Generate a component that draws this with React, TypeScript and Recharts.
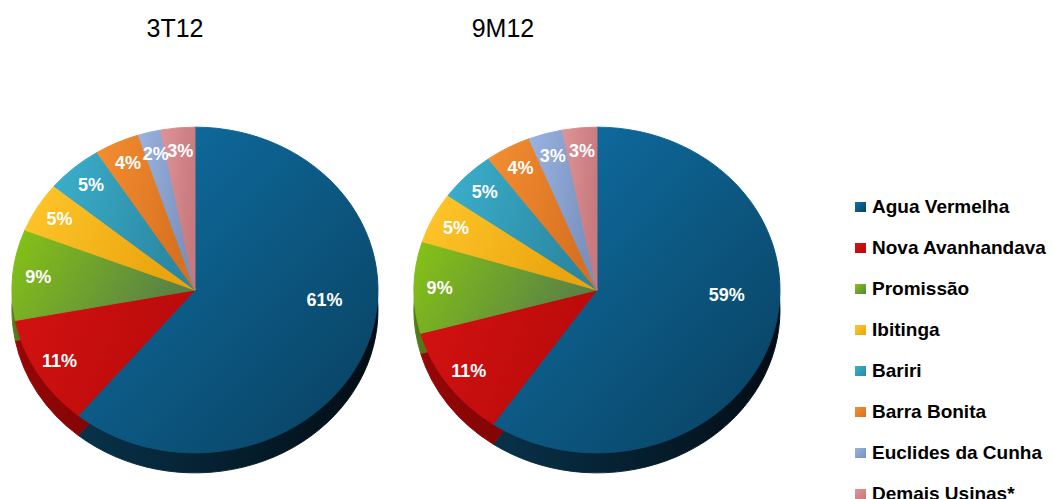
import { Cell, Legend, Pie, PieChart } from "recharts";

const plants = [
  "Agua Vermelha",
  "Nova Avanhandava",
  "Promissão",
  "Ibitinga",
  "Bariri",
  "Barra Bonita",
  "Euclides da Cunha",
  "Demais Usinas*",
];
const periods = ["3T12", "9M12"];
const share3T12 = [61, 11, 9, 5, 5, 4, 2, 3];
const share9M12 = [59, 11, 9, 5, 5, 4, 3, 3];

const faceLight = ["#0f72a8", "#d41212", "#86c414", "#ffc72c", "#3cb0cc", "#f48e32", "#9ab3e0", "#de9497"];
const faceDark = ["#093f5e", "#b90a0a", "#5a8246", "#eaa40e", "#2a88a2", "#d8711f", "#7a91be", "#c87a7e"];
const sideLight = ["#08324a", "#960606", "#557a18", "#b88008", "#1f6a80", "#a85818", "#5c7098", "#985a5d"];
const sideDark = ["#020c14", "#6c0404", "#3a5522", "#8a6006", "#154c5c", "#7a4010", "#44526e", "#704244"];

const FONT = '"Liberation Sans", Arial, sans-serif';
const TILT = 0.89; // vertical squash of the pie disc
const RADIUS = 183;
const DEPTH = 20;
const FACE_Y = 290;
const RAD = Math.PI / 180;

const seriesList = [share3T12, share9M12];
const pieX = [195, 597];
const titleX = [175, 503];

function renderLabel(props: any) {
  const { cx, cy, midAngle, outerRadius, percent, value } = props;
  const big = percent > 0.5;
  const a = (big ? midAngle + 15 : midAngle) * RAD;
  const r = outerRadius * (big ? 0.71 : 0.86);
  const x = cx + r * Math.cos(a);
  const y = cy - r * Math.sin(a);
  return (
    <text
      transform={`translate(${x},${y}) scale(1,${1 / TILT})`}
      textAnchor="middle"
      dominantBaseline="central"
      fill="#fff"
      fontSize={18}
      fontWeight="bold"
      fontFamily={FONT}
    >
      {value}%
    </text>
  );
}

const renderLegend = () => (
  <div style={{ fontFamily: FONT }}>
    {plants.map((name, i) => (
      <div key={name} style={{ display: "flex", alignItems: "center", height: 41 }}>
        <span
          style={{
            display: "inline-block",
            width: 11,
            height: 10,
            marginRight: 6,
            background: `linear-gradient(135deg, ${faceLight[i]}, ${faceDark[i]})`,
          }}
        />
        <span style={{ fontSize: 19, fontWeight: 700, color: "#000", whiteSpace: "nowrap" }}>{name}</span>
      </div>
    ))}
  </div>
);

export default function App() {
  const faceCy = FACE_Y / TILT;
  const sideCy = (FACE_Y + DEPTH) / TILT;

  return (
    <div
      style={{
        position: "relative",
        width: 1052,
        height: 499,
        overflow: "hidden",
        background: "#fff",
        fontFamily: FONT,
      }}
    >
      <style>{`html,body{margin:0;} .tilted svg.recharts-surface{transform:scaleY(${TILT});transform-origin:0 0;}`}</style>
      <div className="tilted">
        <PieChart width={1052} height={561} margin={{ top: 0, right: 0, bottom: 0, left: 0 }}>
          <defs>
            {plants.map((_, i) => (
              <linearGradient
                key={`face-${i}`}
                id={`face-${i}`}
                x1="0"
                y1="0"
                x2="1"
                y2={i === 0 ? "1" : "0.3"}
              >
                <stop offset="0%" stopColor={faceLight[i]} />
                <stop offset="100%" stopColor={faceDark[i]} />
              </linearGradient>
            ))}
            {plants.map((_, i) => (
              <linearGradient key={`side-${i}`} id={`side-${i}`} x1="0" y1="0" x2="1" y2="0">
                <stop offset="0%" stopColor={sideLight[i]} />
                <stop offset="100%" stopColor={sideDark[i]} />
              </linearGradient>
            ))}
          </defs>
          {seriesList.map((values, s) => {
            const data = plants.map((name, i) => ({ name, value: values[i] }));
            return [
              <Pie
                key={`side-${s}`}
                data={data}
                dataKey="value"
                cx={pieX[s]}
                cy={sideCy}
                outerRadius={RADIUS}
                startAngle={90}
                endAngle={-270}
                isAnimationActive={false}
                legendType="none"
              >
                {data.map((d, i) => (
                  <Cell key={d.name} fill={`url(#side-${i})`} stroke={`url(#side-${i})`} strokeWidth={1} />
                ))}
              </Pie>,
              <Pie
                key={`face-${s}`}
                data={data}
                dataKey="value"
                cx={pieX[s]}
                cy={faceCy}
                outerRadius={RADIUS}
                startAngle={90}
                endAngle={-270}
                isAnimationActive={false}
                label={renderLabel}
                labelLine={false}
                legendType="none"
              >
                {data.map((d, i) => (
                  <Cell key={d.name} fill={`url(#face-${i})`} stroke={`url(#face-${i})`} strokeWidth={1} />
                ))}
              </Pie>,
            ];
          })}
          <Legend
            layout="vertical"
            align="right"
            verticalAlign="middle"
            content={renderLegend}
            wrapperStyle={{ left: 855, top: 186, width: 197, right: "auto", bottom: "auto" }}
          />
        </PieChart>
      </div>
      {periods.map((p, i) => (
        <div
          key={p}
          style={{
            position: "absolute",
            left: titleX[i] - 60,
            width: 120,
            top: 16,
            textAlign: "center",
            fontSize: 25,
            lineHeight: "25px",
            color: "#000",
          }}
        >
          {p}
        </div>
      ))}
    </div>
  );
}
